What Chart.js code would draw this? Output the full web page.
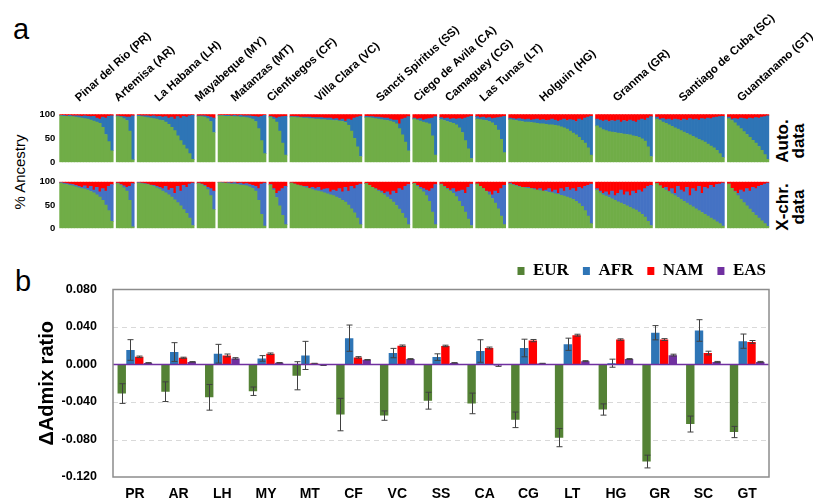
<!DOCTYPE html>
<html>
<head>
<meta charset="utf-8">
<script src="https://cdn.jsdelivr.net/npm/chart.js@4.4.1/dist/chart.umd.min.js"></script>
<style>
  html, body { margin: 0; padding: 0; background: #fff; }
  #wrap { position: relative; width: 813px; height: 502px; overflow: hidden; font-family: "Liberation Sans", Arial, sans-serif; color: #000; }
  canvas { position: absolute; left: 0; }
  .lbl { position: absolute; font-size: 29px; line-height: 1; }
  .rot { position: absolute; transform: rotate(-90deg); text-align: center; white-space: nowrap; }
</style>
</head>
<body>
<div id="wrap">
  <div class="lbl" style="left:13px; top:15px;">a</div>
  <div class="lbl" style="left:15px; top:267px;">b</div>
  <div class="rot" style="left:-40px; top:162px; width:120px; height:20px; line-height:20px; font-size:15px;">% Ancestry</div>
  <div class="rot" style="left:751px; top:125px; width:80px; height:32px; line-height:16px; font-size:17px; font-weight:bold;">Auto.<br>data</div>
  <div class="rot" style="left:751px; top:191px; width:80px; height:32px; line-height:16px; font-size:17px; font-weight:bold;">X-chr.<br>data</div>
  <canvas id="autoChart" width="813" height="172" style="top:0px"></canvas>
  <canvas id="xChart" width="813" height="66" style="top:172px"></canvas>
  <canvas id="deltaChart" width="813" height="262" style="top:240px"></canvas>
</div>
<script>
// provinces, west to east
const provinces = ['Pinar del Rio (PR)', 'Artemisa (AR)', 'La Habana (LH)', 'Mayabeque (MY)', 'Matanzas (MT)',
  'Cienfuegos (CF)', 'Villa Clara (VC)', 'Sancti Spiritus (SS)', 'Ciego de Avila (CA)', 'Camaguey (CG)',
  'Las Tunas (LT)', 'Holguin (HG)', 'Granma (GR)', 'Santiago de Cuba (SC)', 'Guantanamo (GT)'];
const codes = ['PR', 'AR', 'LH', 'MY', 'MT', 'CF', 'VC', 'SS', 'CA', 'CG', 'LT', 'HG', 'GR', 'SC', 'GT'];

// panel a, autosomal data: % EUR and % NAM per individual (AFR is the rest)
const autoEUR = [
  [97, 96, 96, 95, 95, 94, 93, 92, 91, 90, 88, 86, 84, 81, 73, 58, 43, 24],
  [95, 94, 91, 87, 65, 5],
  [96, 95, 94, 93, 92, 91, 90, 88, 87, 84, 79, 73, 66, 55, 45, 36, 28, 18, 6],
  [95, 95, 94, 91, 85, 62],
  [97, 97, 96, 96, 96, 95, 95, 94, 94, 93, 92, 90, 85, 70, 45, 18],
  [94, 90, 84, 65, 40, 15],
  [94, 94, 93, 93, 92, 92, 91, 91, 90, 90, 89, 89, 88, 88, 87, 87, 86, 85, 83, 77, 65, 50, 32, 12],
  [93, 93, 92, 91, 90, 89, 88, 87, 86, 84, 80, 70, 57, 42, 24],
  [90, 88, 86, 84, 82, 80, 55, 15],
  [89, 87, 85, 83, 81, 78, 72, 62, 45, 28, 8],
  [90, 89, 88, 87, 85, 82, 77, 67, 48, 20],
  [89, 88, 87, 86, 85, 84, 84, 83, 82, 81, 80, 80, 79, 78, 78, 77, 76, 74, 72, 69, 65, 61, 57, 52, 46, 40, 30, 15],
  [76, 72, 68, 66, 64, 63, 62, 61, 60, 59, 58, 57, 55, 54, 52, 49, 44, 32, 12],
  [90, 87, 84, 81, 78, 75, 72, 69, 66, 63, 60, 57, 54, 51, 48, 45, 42, 38, 34, 30, 25, 18, 10],
  [91, 87, 82, 76, 70, 64, 58, 52, 46, 40, 33, 25, 16, 6]
];
const autoNAM = [
  [2, 2, 3, 2, 3, 3, 3, 4, 3, 4, 5, 4, 8, 10, 6, 8, 4, 3],
  [3, 4, 5, 6, 6, 3],
  [2, 3, 3, 3, 4, 3, 5, 4, 6, 5, 8, 6, 10, 5, 8, 4, 6, 3, 2],
  [3, 3, 3, 4, 6, 8],
  [2, 2, 2, 2, 3, 2, 3, 2, 3, 3, 3, 4, 5, 6, 4, 2],
  [4, 6, 8, 6, 5, 4],
  [4, 5, 5, 6, 6, 6, 6, 7, 7, 7, 7, 8, 8, 8, 10, 9, 12, 10, 14, 10, 12, 8, 6, 4],
  [4, 5, 5, 6, 6, 7, 8, 8, 10, 12, 12, 20, 10, 8, 5],
  [8, 10, 9, 12, 10, 9, 8, 5],
  [7, 9, 8, 10, 9, 10, 9, 10, 8, 6, 4],
  [5, 7, 6, 8, 7, 9, 8, 7, 6, 4],
  [8, 9, 10, 9, 10, 11, 10, 12, 11, 10, 12, 11, 13, 12, 10, 12, 14, 12, 10, 13, 11, 12, 15, 10, 12, 8, 6, 4],
  [10, 12, 14, 12, 15, 13, 14, 12, 16, 13, 15, 12, 14, 16, 12, 10, 12, 8, 5],
  [6, 10, 9, 11, 10, 12, 10, 11, 13, 10, 12, 9, 11, 10, 12, 9, 10, 8, 9, 7, 6, 5, 4],
  [6, 10, 9, 10, 8, 9, 10, 8, 9, 7, 8, 6, 5, 3]
];

// panel a, X-chromosome data
const xEUR = [
  [97, 95, 94, 92, 91, 89, 87, 85, 84, 82, 79, 76, 72, 67, 60, 50, 38, 15],
  [96, 92, 87, 80, 60, 3],
  [97, 96, 95, 94, 92, 90, 87, 84, 80, 76, 72, 67, 61, 55, 48, 40, 32, 22, 6],
  [96, 94, 90, 83, 70, 40],
  [98, 97, 97, 96, 95, 95, 94, 93, 92, 91, 89, 86, 80, 60, 30, 5],
  [93, 82, 66, 48, 28, 8],
  [97, 95, 93, 91, 89, 87, 85, 83, 81, 80, 78, 76, 74, 72, 70, 67, 64, 60, 56, 50, 42, 33, 22, 8],
  [96, 92, 88, 84, 80, 76, 72, 67, 62, 56, 49, 41, 32, 22, 8],
  [96, 90, 84, 78, 70, 58, 35, 8],
  [94, 89, 84, 80, 75, 68, 58, 47, 35, 20, 6],
  [95, 90, 85, 79, 72, 64, 54, 42, 26, 8],
  [95, 93, 91, 89, 88, 87, 86, 85, 83, 82, 81, 80, 79, 77, 76, 74, 73, 71, 69, 67, 65, 62, 58, 53, 47, 38, 26, 10],
  [82, 76, 72, 69, 66, 63, 60, 57, 54, 51, 48, 45, 42, 39, 35, 30, 24, 15, 6],
  [96, 91, 86, 82, 78, 74, 70, 66, 62, 58, 54, 50, 46, 42, 38, 34, 30, 26, 22, 18, 14, 10, 5],
  [95, 86, 78, 70, 62, 55, 48, 41, 34, 28, 22, 16, 10, 4]
];
const xNAM = [
  [2, 3, 4, 5, 6, 8, 10, 12, 9, 14, 10, 18, 12, 22, 15, 20, 10, 6],
  [3, 6, 9, 12, 10, 4],
  [2, 3, 4, 5, 7, 8, 10, 12, 15, 10, 18, 14, 25, 10, 20, 8, 12, 5, 3],
  [3, 5, 8, 12, 15, 20],
  [2, 2, 3, 2, 3, 2, 4, 3, 5, 4, 6, 8, 10, 15, 5, 3],
  [6, 15, 25, 20, 15, 10],
  [3, 5, 7, 9, 10, 10, 14, 12, 15, 12, 18, 16, 15, 22, 18, 20, 15, 22, 12, 20, 10, 15, 8, 5],
  [4, 8, 12, 15, 18, 20, 25, 22, 28, 20, 25, 15, 18, 10, 6],
  [4, 8, 12, 15, 18, 20, 15, 6],
  [5, 10, 14, 18, 15, 22, 20, 18, 25, 12, 5],
  [5, 10, 15, 20, 22, 28, 20, 25, 15, 8],
  [3, 6, 8, 10, 12, 12, 12, 15, 15, 18, 15, 20, 18, 15, 22, 18, 25, 15, 20, 12, 18, 15, 20, 12, 15, 10, 8, 5],
  [15, 20, 25, 22, 28, 20, 30, 25, 18, 28, 22, 30, 20, 25, 18, 22, 15, 10, 8],
  [4, 9, 14, 12, 20, 15, 25, 10, 18, 22, 12, 30, 15, 20, 10, 25, 12, 15, 8, 12, 6, 5, 3],
  [5, 14, 20, 25, 18, 22, 15, 20, 12, 15, 10, 8, 5, 3]
];

// panel b: change in admixture ratio, mean and error
const deltaEUR = [-0.031, -0.029, -0.035, -0.0285, -0.012, -0.0534, -0.0545, -0.0386, -0.0415, -0.059, -0.078, -0.048, -0.1035, -0.0635, -0.072];
const errEUR = [0.0105, 0.0105, 0.0137, 0.0045, 0.015, 0.0173, 0.005, 0.009, 0.011, 0.0083, 0.0097, 0.006, 0.0068, 0.0085, 0.006];
const deltaAFR = [0.0155, 0.0133, 0.0115, 0.0065, 0.0097, 0.0281, 0.0122, 0.0079, 0.0144, 0.0176, 0.0216, 0.0014, 0.0339, 0.0363, 0.0249];
const errAFR = [0.011, 0.010, 0.010, 0.003, 0.015, 0.014, 0.005, 0.0035, 0.012, 0.0094, 0.0065, 0.0043, 0.0076, 0.0115, 0.0076];
const deltaNAM = [0.0082, 0.0072, 0.0097, 0.0115, 0.001, 0.0076, 0.020, 0.0198, 0.0176, 0.0255, 0.0313, 0.0266, 0.0266, 0.0122, 0.0241];
const errNAM = [0.0008, 0.0006, 0.0015, 0.0008, 0.0003, 0.0008, 0.0008, 0.0008, 0.001, 0.0012, 0.001, 0.0008, 0.001, 0.002, 0.0015];
const deltaEAS = [0.0017, 0.0028, 0.0065, 0.0018, -0.0007, 0.005, 0.0058, 0.0017, -0.001, 0.001, 0.0036, 0.0058, 0.010, 0.0028, 0.0028];
const errEAS = [0.0003, 0.0003, 0.0008, 0.0003, 0.0003, 0.0003, 0.0005, 0.0003, 0.001, 0.0003, 0.0005, 0.0005, 0.001, 0.0005, 0.0005];

Chart.defaults.font.family = '"Liberation Sans", Arial, sans-serif';
Chart.defaults.color = '#000';

// one category per individual, one empty category between provinces
const blocks = [];
function buildAdmix(eurSets, namSets) {
  const labels = [], eur = [], afr = [], nam = [];
  blocks.length = 0;
  eurSets.forEach((block, k) => {
    if (k > 0) { labels.push(''); eur.push(null); afr.push(null); nam.push(null); }
    const start = labels.length;
    block.forEach((e, i) => {
      const n = namSets[k][i];
      labels.push(codes[k] + (i + 1));
      eur.push(e);
      nam.push(n);
      afr.push(Math.max(0, 100 - e - n));
    });
    blocks.push({ start, end: labels.length - 1 });
  });
  return { labels, eur, afr, nam };
}

const provinceLabels = {
  id: 'provinceLabels',
  afterDraw(chart) {
    const x = chart.scales.x, ctx = chart.ctx;
    ctx.save();
    ctx.font = 'bold 11.5px "Liberation Sans", Arial, sans-serif';
    ctx.fillStyle = '#000';
    ctx.textAlign = 'left';
    ctx.textBaseline = 'alphabetic';
    blocks.forEach((b, k) => {
      const cx = (x.getPixelForValue(b.start) + x.getPixelForValue(b.end)) / 2;
      ctx.save();
      ctx.translate(cx - 7, 102);
      ctx.rotate(-42 * Math.PI / 180);
      ctx.fillText(provinces[k], 0, 0);
      ctx.restore();
    });
    ctx.restore();
  }
};

function admixChart(id, padTop, padBottom, eurSets, namSets, blue, extra) {
  const d = buildAdmix(eurSets, namSets);
  return new Chart(document.getElementById(id), {
    type: 'bar',
    data: {
      labels: d.labels,
      datasets: [
        { label: 'EUR', data: d.eur, backgroundColor: '#70AD47' },
        { label: 'AFR', data: d.afr, backgroundColor: blue },
        { label: 'NAM', data: d.nam, backgroundColor: '#FF0000' }
      ]
    },
    options: {
      responsive: false,
      animation: false,
      layout: { padding: { top: padTop, bottom: padBottom, left: 0, right: 43.7 } },
      datasets: { bar: { barPercentage: 1, categoryPercentage: 1, borderWidth: 0 } },
      plugins: { legend: { display: false }, tooltip: { enabled: false } },
      scales: {
        x: { stacked: true, display: false },
        y: {
          stacked: true, min: 0, max: 100,
          ticks: { stepSize: 25, color: '#000', font: { size: 9.5, weight: 'bold' }, padding: 4 },
          grid: { display: false, drawTicks: false },
          border: { display: false },
          afterFit: s => { s.width = 59.3; }
        }
      }
    },
    plugins: extra
  });
}

admixChart('autoChart', 114.3, 6.3, autoEUR, autoNAM, '#2E75B6', [provinceLabels]);
admixChart('xChart', 9, 6.3, xEUR, xNAM, '#4472C4', []);

// panel b decorations: dashed grid, error bars, zero line, frame
const errSets = [errEUR, errAFR, errNAM, errEAS];
const deltaDecor = {
  id: 'deltaDecor',
  beforeDatasetsDraw(chart) {
    const { ctx, chartArea: a, scales: { y } } = chart;
    ctx.save();
    ctx.strokeStyle = '#d9d9d9';
    ctx.lineWidth = 1;
    ctx.setLineDash([5, 4]);
    y.ticks.forEach(t => {
      if (t.value <= y.min + 1e-9 || t.value >= y.max - 1e-9 || Math.abs(t.value) < 1e-9) return;
      const py = Math.round(y.getPixelForValue(t.value)) + 0.5;
      ctx.beginPath(); ctx.moveTo(a.left, py); ctx.lineTo(a.right, py); ctx.stroke();
    });
    ctx.restore();
  },
  afterDatasetsDraw(chart) {
    const { ctx, chartArea: a, scales: { y } } = chart;
    ctx.save();
    ctx.strokeStyle = '#404040';
    ctx.lineWidth = 1;
    chart.data.datasets.forEach((ds, i) => {
      chart.getDatasetMeta(i).data.forEach((bar, j) => {
        const v = ds.data[j], e = errSets[i][j];
        const x = Math.round(bar.x) + 0.5;
        const y1 = y.getPixelForValue(v + e), y2 = y.getPixelForValue(v - e);
        ctx.beginPath();
        ctx.moveTo(x, y1); ctx.lineTo(x, y2);
        ctx.moveTo(x - 3, y1); ctx.lineTo(x + 3, y1);
        ctx.moveTo(x - 3, y2); ctx.lineTo(x + 3, y2);
        ctx.stroke();
      });
    });
    const y0 = y.getPixelForValue(0);
    ctx.strokeStyle = '#7030A0';
    ctx.lineWidth = 1.5;
    ctx.beginPath(); ctx.moveTo(a.left, y0); ctx.lineTo(a.right, y0); ctx.stroke();
    ctx.strokeStyle = '#8c8c8c';
    ctx.lineWidth = 1.5;
    ctx.strokeRect(a.left, a.top, a.right - a.left, a.bottom - a.top);
    ctx.restore();
  }
};

new Chart(document.getElementById('deltaChart'), {
  type: 'bar',
  data: {
    labels: codes,
    datasets: [
      { label: 'EUR', data: deltaEUR, backgroundColor: '#548235' },
      { label: 'AFR', data: deltaAFR, backgroundColor: '#2E75B6' },
      { label: 'NAM', data: deltaNAM, backgroundColor: '#FF0000' },
      { label: 'EAS', data: deltaEAS, backgroundColor: '#7030A0' }
    ]
  },
  options: {
    responsive: false,
    animation: false,
    layout: { padding: { top: 8.5, right: 33, left: 0, bottom: 0 } },
    datasets: { bar: { categoryPercentage: 0.8, barPercentage: 0.96, borderWidth: 0 } },
    plugins: {
      tooltip: { enabled: false },
      legend: {
        position: 'top', align: 'end',
        labels: {
          boxWidth: 7, boxHeight: 8, padding: 14, color: '#000',
          font: { family: '"Liberation Serif", "Times New Roman", serif', size: 17, weight: 'bold' }
        }
      }
    },
    scales: {
      x: {
        grid: { display: false, drawTicks: false },
        border: { display: false },
        ticks: { color: '#000', font: { size: 14, weight: 'bold' }, padding: 9 },
        afterFit: s => { s.height = 25; }
      },
      y: {
        min: -0.12, max: 0.08,
        ticks: {
          stepSize: 0.04, color: '#000', font: { size: 12.5, weight: 'bold' }, padding: 16,
          callback: v => Math.abs(v) < 1e-9 ? '0.000' : v.toFixed(3)
        },
        grid: { display: false, drawTicks: false },
        border: { display: false },
        title: { display: true, text: 'ΔAdmix ratio', color: '#000', font: { size: 20, weight: 'bold' }, padding: { top: 35, bottom: 0 } },
        afterFit: s => { s.width = 113; }
      },
      yR: {
        type: 'linear', position: 'right', display: true,
        ticks: { display: false },
        grid: { display: false, drawTicks: false },
        border: { display: false },
        afterFit: s => { s.width = 11; }
      }
    }
  },
  plugins: [deltaDecor]
});
</script>
</body>
</html>
